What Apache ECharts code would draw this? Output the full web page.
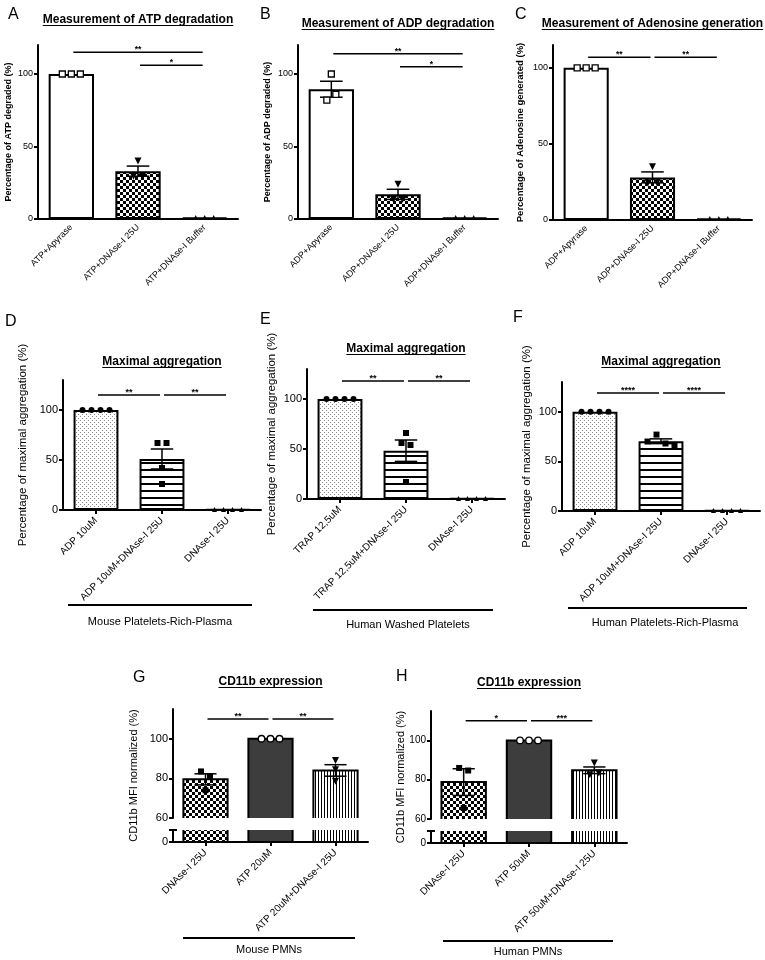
<!DOCTYPE html>
<html><head><meta charset="utf-8">
<script src="https://cdn.jsdelivr.net/npm/echarts@6/dist/echarts.min.js"></script>
<style>html,body{margin:0;padding:0;background:#fff}#c{width:765px;height:960px}</style>
</head><body><div id="c"></div>
<script>
// ================= DATA =================
const catsA = ['ATP+Apyrase', 'ATP+DNAse-I 25U', 'ATP+DNAse-I Buffer'];
const meanA = [100, 33, 1];
const semA  = [0, 3.5, 0];
const ptsA  = [[100, 100, 100], [40, 29.5, 29.5], [1, 1, 1]];
const sigA  = [[0, 2, 115, '**'], [1, 2, 106, '*']];
const rangeA = [0, 120];
const ticksA = [0, 50, 100];

const catsB = ['ADP+Apyrase', 'ADP+DNAse-I 25U', 'ADP+DNAse-I Buffer'];
const meanB = [89.5, 17, 1];
const semB  = [5.5, 3.5, 0];
const ptsB  = [[82, 100, 86], [24, 13.5, 13.5], [1, 1, 1]];
const sigB  = [[0, 2, 114, '**'], [1, 2, 105, '*']];
const rangeB = [0, 120];
const ticksB = [0, 50, 100];

const catsC = ['ADP+Apyrase', 'ADP+DNAse-I 25U', 'ADP+DNAse-I Buffer'];
const meanC = [100, 28, 1];
const semC  = [0, 3.6, 0];
const ptsC  = [[100, 100, 100], [35, 24.5, 24.5], [1, 1, 1]];
const sigC  = [[0, 1, 107, '**'], [1, 2, 107, '**']];
const rangeC = [0, 115];
const ticksC = [0, 50, 100];

const catsD = ['ADP 10uM', 'ADP 10uM+DNAse-I 25U', 'DNAse-I 25U'];
const meanD = [100, 51, 0.5];
const semD  = [0, 10, 0];
const ptsD  = [[100, 100, 100, 100], [67, 42, 26, 67], [0.5, 0.5, 0.5, 0.5]];
const sigD  = [[0, 1, 115, '**'], [1, 2, 115, '**']];
const rangeD = [0, 130];
const ticksD = [0, 50, 100];

const catsE = ['TRAP 12,5uM', 'TRAP 12,5uM+DNAse-I 25U', 'DNAse-I 25U'];
const meanE = [100, 48.3, 0.5];
const semE  = [0, 10.7, 0];
const ptsE  = [[100, 100, 100, 100], [66, 56, 54, 17], [0.5, 0.5, 0.5, 0.5]];
const sigE  = [[0, 1, 118, '**'], [1, 2, 118, '**']];
const rangeE = [0, 130];
const ticksE = [0, 50, 100];

const catsF = ['ADP 10uM', 'ADP 10uM+DNAse-I 25U', 'DNAse-I 25U'];
const meanF = [100, 70.3, 0.5];
const semF  = [0, 2.4, 0];
const ptsF  = [[100, 100, 100, 100], [70, 77, 68, 66], [0.5, 0.5, 0.5, 0.5]];
const sigF  = [[0, 1, 119, '****'], [1, 2, 119, '****']];
const rangeF = [0, 130];
const ticksF = [0, 50, 100];

const catsG = ['DNAse-I 25U', 'ATP 20uM', 'ATP 20uM+DNAse-I 25U'];
const meanG = [79.5, 100, 84];
const semG  = [2.8, 0, 2.9];
const ptsG  = [[83.5, 74, 81], [100, 100, 100], [89, 84.3, 78.5]];
const sigG  = [[0, 1, 110, '**'], [1, 2, 110, '**']];
const rangeG = [60, 115];
const ticksG = [60, 80, 100];
const lowRangeG = [0, 6];

const catsH = ['DNAse-I 25U', 'ATP 50uM', 'ATP 50uM+DNAse-I 25U'];
const meanH = [78.8, 100, 84.8];
const semH  = [6.8, 0, 1.7];
const ptsH  = [[86, 84.7, 65.6], [100, 100, 100], [88.5, 82.5, 83.4]];
const sigH  = [[0, 1, 110, '*'], [1, 2, 110, '***']];
const rangeH = [60, 115];
const ticksH = [60, 80, 100];
const lowRangeH = [0, 6];

const titles = {
  A: 'Measurement of ATP degradation', B: 'Measurement of ADP degradation',
  C: 'Measurement of Adenosine generation', D: 'Maximal aggregation',
  E: 'Maximal aggregation', F: 'Maximal aggregation',
  G: 'CD11b expression', H: 'CD11b expression'
};
const yNames = {
  A: 'Percentage of ATP degraded (%)', B: 'Percentage of ADP degraded (%)',
  C: 'Percentage of Adenosine generated (%)', D: 'Percentage of maximal aggregation (%)',
  E: 'Percentage of maximal aggregation (%)', F: 'Percentage of maximal aggregation (%)',
  G: 'CD11b MFI normalized (%)', H: 'CD11b MFI normalized (%)'
};
const groups = {
  D: 'Mouse Platelets-Rich-Plasma', E: 'Human Washed Platelets', F: 'Human Platelets-Rich-Plasma',
  G: 'Mouse PMNs', H: 'Human PMNs'
};

// ================= STYLE / LAYOUT =================
const FONT = '"Liberation Sans", Arial, Helvetica, sans-serif';
function pat(w, h, draw) {
  const c = document.createElement('canvas'); c.width = w; c.height = h;
  const x = c.getContext('2d'); x.fillStyle = '#fff'; x.fillRect(0, 0, w, h); draw(x);
  return { image: c, repeat: 'repeat' };
}
const FILL = {
  white: '#ffffff',
  dark: '#3d3d3d',
  checker: pat(6, 6, x => { x.fillStyle = '#000'; x.fillRect(0, 0, 3, 3); x.fillRect(3, 3, 3, 3); }),
  stipple: pat(4, 4, x => { x.fillStyle = '#8a8a8a'; x.fillRect(0, 0, 1, 1); x.fillRect(2, 2, 1, 1); }),
  hstripe: pat(1, 7, x => { x.fillStyle = '#000'; x.fillRect(0, 0, 1, 2); }),
  vstripe: pat(3, 1, x => { x.fillStyle = '#000'; x.fillRect(0, 0, 1, 1); })
};
const MARK = {
  oSquare: { symbol: 'rect', symbolSize: 6, itemStyle: { color: '#fff', borderColor: '#000', borderWidth: 1.3, opacity: 1 } },
  fSquare: { symbol: 'rect', symbolSize: 6, itemStyle: { color: '#000', opacity: 1 } },
  fCircle: { symbol: 'circle', symbolSize: 6, itemStyle: { color: '#000', opacity: 1 } },
  oCircle: { symbol: 'circle', symbolSize: 6.5, itemStyle: { color: '#fff', borderColor: '#000', borderWidth: 1.3, opacity: 1 } },
  dTri: { symbol: 'triangle', symbolSize: 7, symbolRotate: 180, itemStyle: { color: '#000', opacity: 1 } },
  uTri: { symbol: 'triangle', symbolSize: 5, itemStyle: { color: '#000', opacity: 1 } }
};
const S = {
  A: { grid: [38, 45, 200, 174], letter: [8, 15], titleY: 20, nameGap: 25, nfs: 9, nfw: 'bold', tfs: 9, xfs: 9, xmargin: 7, xtick: false, sfs: 8.5,
       fills: ['white', 'checker', 'white'], marks: ['oSquare', 'dTri', 'uTri'] },
  B: { grid: [298, 45, 200, 174], letter: [260, 15], titleY: 24, nameGap: 26, nfs: 9, nfw: 'bold', tfs: 9, xfs: 9, xmargin: 7, xtick: false, sfs: 8.5,
       fills: ['white', 'checker', 'white'], marks: ['oSquare', 'dTri', 'uTri'] },
  C: { grid: [553, 45, 199, 175], letter: [515, 15], titleY: 24, nameGap: 28, nfs: 9.5, nfw: 'bold', tfs: 9, xfs: 9, xmargin: 7, xtick: false, sfs: 8.5,
       fills: ['white', 'checker', 'white'], marks: ['oSquare', 'dTri', 'uTri'] },
  D: { grid: [63, 380, 198, 130], letter: [5, 322], titleY: 362, nameGap: 34, nfs: 11.5, nfw: 'normal', tfs: 11, xfs: 10, xmargin: 9, xtick: true, sfs: 9,
       fills: ['stipple', 'hstripe', 'white'], marks: ['fCircle', 'fSquare', 'uTri'], gLine: [68, 252, 605], gText: [160, 622] },
  E: { grid: [307, 369, 198, 130], letter: [260, 320], titleY: 349, nameGap: 29, nfs: 11.5, nfw: 'normal', tfs: 11, xfs: 10, xmargin: 9, xtick: true, sfs: 9,
       fills: ['stipple', 'hstripe', 'white'], marks: ['fCircle', 'fSquare', 'uTri'], gLine: [313, 493, 610], gText: [408, 625] },
  F: { grid: [562, 382, 198, 129], letter: [513, 318], titleY: 362, nameGap: 29, nfs: 11.5, nfw: 'normal', tfs: 11, xfs: 10, xmargin: 9, xtick: true, sfs: 9,
       fills: ['stipple', 'hstripe', 'white'], marks: ['fCircle', 'fSquare', 'uTri'], gLine: [568, 747, 608], gText: [665, 623] },
  G: { upper: [173, 709, 195, 109], lower: [173, 830, 195, 12], letter: [133, 678], titleY: 682, nameX: 134, nfs: 11, tfs: 11, xfs: 10, xmargin: 9, xtick: true, sfs: 9,
       fills: ['checker', 'dark', 'vstripe'], marks: ['fSquare', 'oCircle', 'dTri'], gLine: [183, 355, 938], gText: [269, 950] },
  H: { upper: [431, 711, 196, 108], lower: [431, 831, 196, 12], letter: [396, 677], titleY: 683, nameX: 401, nfs: 11, tfs: 10, xfs: 10, xmargin: 9, xtick: true, sfs: 9,
       fills: ['checker', 'dark', 'vstripe'], marks: ['fSquare', 'oCircle', 'dTri'], gLine: [443, 613, 941], gText: [528, 952] }
};

// ================= BUILD =================
const grids = [], xAxes = [], yAxes = [], series = [], graphics = [];
const measCtx = document.createElement('canvas').getContext('2d');
function measure(t, size, weight) { measCtx.font = weight + ' ' + size + 'px ' + FONT; return measCtx.measureText(t).width; }

function gText(text, x, y, size, weight, align, rot) {
  return { type: 'text', x: x, y: y, rotation: rot || 0, silent: true, z: 10,
    style: { text: text, fill: '#000', fontSize: size, fontWeight: weight || 'normal', fontFamily: FONT,
      textAlign: align || 'center', textVerticalAlign: 'middle', align: align || 'center', verticalAlign: 'middle' } };
}
function gLine(x1, y1, x2, y2, w) {
  return { type: 'line', silent: true, z: 10, shape: { x1: x1, y1: y1, x2: x2, y2: y2 }, style: { stroke: '#000', lineWidth: w } };
}
function addTitle(text, cx, cy) {
  const w = measure(text, 12, 'bold');
  graphics.push(gText(text, cx, cy, 12, 'bold'));
  graphics.push(gLine(cx - w / 2, cy + 5.5, cx + w / 2, cy + 5.5, 1.2));
}
function addGrid(r) {
  grids.push({ left: r[0], top: r[1], width: r[2], height: r[3], containLabel: false, outerBoundsMode: 'none' });
  return grids.length - 1;
}
function catAxis(g, cats, o) {
  xAxes.push({ type: 'category', gridIndex: g, data: cats, show: o.show !== false, position: 'bottom',
    axisLine: { show: true, onZero: false, lineStyle: { color: '#000', width: 2 } },
    axisTick: { show: !!o.xtick, alignWithLabel: true, length: 4, lineStyle: { color: '#000', width: 2 } },
    axisLabel: { interval: 0, rotate: 45, fontSize: o.xfs, fontFamily: FONT, color: '#000', margin: o.xmargin },
    splitLine: { show: false } });
  return xAxes.length - 1;
}
function valXAxis(g) {
  xAxes.push({ type: 'value', gridIndex: g, min: -0.5, max: 2.5, show: false, position: 'bottom',
    axisLine: { onZero: false }, splitLine: { show: false } });
  return xAxes.length - 1;
}
function valYAxis(g, o) {
  yAxes.push({ type: 'value', gridIndex: g, min: o.min, max: o.max, position: 'left', offset: 0,
    axisLine: { show: o.line !== false, onZero: false, lineStyle: { color: '#000', width: 2 } },
    axisTick: { show: true, inside: !!o.inside, length: 4, customValues: o.ticks, lineStyle: { color: '#000', width: 2 } },
    axisLabel: { show: o.labels !== null, customValues: o.labels || o.ticks, fontSize: o.fs, fontFamily: FONT, color: '#000', margin: 5 },
    splitLine: { show: false },
    name: o.name || '', nameLocation: 'middle', nameGap: o.nameGap || 0,
    nameTextStyle: { fontSize: o.nfs || 10, fontWeight: o.nfw || 'normal', fontFamily: FONT, color: '#000' } });
  return yAxes.length - 1;
}
function spread(vals, ppu, bandPx) {
  const idx = vals.map((v, i) => i).sort((a, b) => vals[a] - vals[b]);
  const clusters = []; let cur = [idx[0]];
  for (let k = 1; k < idx.length; k++) {
    if ((vals[idx[k]] - vals[idx[k - 1]]) * ppu < 7.5) cur.push(idx[k]);
    else { clusters.push(cur); cur = [idx[k]]; }
  }
  clusters.push(cur);
  const off = vals.map(() => 0);
  clusters.forEach(c => { c.sort((a, b) => a - b); c.forEach((id, j) => { off[id] = (j - (c.length - 1) / 2) * 9 / bandPx; }); });
  return off;
}
function barSeries(cx, y, mean, fills, bw) {
  series.push({ type: 'bar', xAxisIndex: cx, yAxisIndex: y, barWidth: '68%', silent: true, z: 2, clip: true,
    itemStyle: { borderColor: '#000', borderWidth: bw },
    data: mean.map((v, i) => ({ value: v, itemStyle: { color: FILL[fills[i]] } })) });
}
function outlineSeries(vx, y, mean, segMin, segMax, openBottom) {
  series.push({ type: 'custom', xAxisIndex: vx, yAxisIndex: y, silent: true, z: 3,
    data: mean.map((v, i) => [i, v]), encode: { x: 0, y: 1 },
    renderItem: function (params, api) {
      const i = api.value(0), v = Math.min(api.value(1), segMax);
      const half = api.size([0.68, 0])[0] / 2;
      const c0 = api.coord([i, segMin]), c1 = api.coord([i, v]);
      const xl = c0[0] - half, xr = c0[0] + half;
      const pts = openBottom ? [[xl, c0[1]], [xl, c1[1]], [xr, c1[1]], [xr, c0[1]]]
                             : [[xl, c1[1]], [xl, c0[1]], [xr, c0[1]], [xr, c1[1]]];
      return { type: 'polyline', shape: { points: pts }, style: { stroke: '#000', lineWidth: 2, fill: null } };
    } });
}
function errSeries(vx, y, mean, sem) {
  series.push({ type: 'custom', xAxisIndex: vx, yAxisIndex: y, silent: true, z: 4,
    data: mean.map((m, i) => [i, m, sem[i]]), encode: { x: 0, y: 1 },
    renderItem: function (params, api) {
      const x = api.value(0), m = api.value(1), s = api.value(2);
      if (!(s > 0)) return null;
      const t = api.coord([x, m + s]), b = api.coord([x, m - s]);
      const h = api.size([0.34, 0])[0] / 2;
      const st = { stroke: '#000', lineWidth: 1.5 };
      return { type: 'group', children: [
        { type: 'line', shape: { x1: t[0], y1: t[1], x2: b[0], y2: b[1] }, style: st },
        { type: 'line', shape: { x1: t[0] - h, y1: t[1], x2: t[0] + h, y2: t[1] }, style: st },
        { type: 'line', shape: { x1: b[0] - h, y1: b[1], x2: b[0] + h, y2: b[1] }, style: st }] };
    } });
}
function scatterSeries(vx, y, pts, marks, bandPx, ppu) {
  const data = [];
  pts.forEach((vals, i) => {
    const off = spread(vals, ppu, bandPx);
    vals.forEach((v, j) => { data.push(Object.assign({ value: [i + off[j], v] }, MARK[marks[i]])); });
  });
  series.push({ type: 'scatter', xAxisIndex: vx, yAxisIndex: y, silent: true, z: 5, data: data });
}
function sigSeries(vx, y, sig, fs) {
  series.push({ type: 'custom', xAxisIndex: vx, yAxisIndex: y, silent: true, z: 4,
    data: sig.map(s => [s[0], s[1], s[2]]), encode: { x: [0, 1], y: 2 },
    renderItem: function (params, api) {
      const s = sig[params.dataIndex];
      const p1 = api.coord([api.value(0), api.value(2)]), p2 = api.coord([api.value(1), api.value(2)]);
      return { type: 'group', children: [
        { type: 'line', shape: { x1: p1[0] + 2, y1: p1[1], x2: p2[0] - 2, y2: p2[1] }, style: { stroke: '#000', lineWidth: 1.5 } },
        { type: 'text', x: (p1[0] + p2[0]) / 2, y: p1[1] - 2.5,
          style: { text: s[3], fill: '#000', fontSize: fs, fontWeight: 'bold', fontFamily: FONT,
            textAlign: 'center', textVerticalAlign: 'middle', align: 'center', verticalAlign: 'middle' } }] };
    } });
}

function buildSimple(id, cats, mean, sem, pts, sig, range, ticks) {
  const s = S[id];
  const g = addGrid(s.grid);
  const cx = catAxis(g, cats, s);
  const vx = valXAxis(g);
  const y = valYAxis(g, { min: range[0], max: range[1], ticks: ticks, fs: s.tfs, name: yNames[id], nameGap: s.nameGap, nfs: s.nfs, nfw: s.nfw });
  barSeries(cx, y, mean, s.fills, 2);
  errSeries(vx, y, mean, sem);
  sigSeries(vx, y, sig, s.sfs);
  scatterSeries(vx, y, pts, s.marks, s.grid[2] / 3, s.grid[3] / (range[1] - range[0]));
  graphics.push(gText(id, s.letter[0], s.letter[1], 16, 'normal', 'left'));
  addTitle(titles[id], s.grid[0] + s.grid[2] / 2, s.titleY);
  if (groups[id]) {
    graphics.push(gLine(s.gLine[0], s.gLine[2], s.gLine[1], s.gLine[2], 2));
    graphics.push(gText(groups[id], s.gText[0], s.gText[1], 11, 'normal'));
  }
}
function buildBroken(id, cats, mean, sem, pts, sig, range, ticks, lowRange) {
  const s = S[id];
  // upper segment
  const g1 = addGrid(s.upper);
  const cx1 = catAxis(g1, cats, { show: false });
  const vx1 = valXAxis(g1);
  const y1 = valYAxis(g1, { min: range[0], max: range[1], ticks: ticks, fs: s.tfs });
  barSeries(cx1, y1, mean, s.fills, 0);
  outlineSeries(vx1, y1, mean, range[0], range[1], true);
  errSeries(vx1, y1, mean, sem);
  sigSeries(vx1, y1, sig, s.sfs);
  scatterSeries(vx1, y1, pts, s.marks, s.upper[2] / 3, s.upper[3] / (range[1] - range[0]));
  // lower segment
  const g2 = addGrid(s.lower);
  const cx2 = catAxis(g2, cats, s);
  const vx2 = valXAxis(g2);
  const y2 = valYAxis(g2, { min: lowRange[0], max: lowRange[1], ticks: lowRange, labels: [lowRange[0]], fs: s.tfs });
  valYAxis(g2, { min: lowRange[0], max: lowRange[1], ticks: [lowRange[1]], labels: null, fs: s.tfs, inside: true, line: false });
  barSeries(cx2, y2, mean, s.fills, 0);
  outlineSeries(vx2, y2, mean, lowRange[0], lowRange[1], false);
  // texts
  graphics.push(gText(id, s.letter[0], s.letter[1], 16, 'normal', 'left'));
  addTitle(titles[id], s.upper[0] + s.upper[2] / 2, s.titleY);
  const axTop = s.upper[1], axBot = s.lower[1] + s.lower[3];
  graphics.push(gText(yNames[id], s.nameX, (axTop + axBot) / 2, s.nfs, 'normal', 'center', Math.PI / 2));
  graphics.push(gLine(s.gLine[0], s.gLine[2], s.gLine[1], s.gLine[2], 2));
  graphics.push(gText(groups[id], s.gText[0], s.gText[1], 11, 'normal'));
}

buildSimple('A', catsA, meanA, semA, ptsA, sigA, rangeA, ticksA);
buildSimple('B', catsB, meanB, semB, ptsB, sigB, rangeB, ticksB);
buildSimple('C', catsC, meanC, semC, ptsC, sigC, rangeC, ticksC);
buildSimple('D', catsD, meanD, semD, ptsD, sigD, rangeD, ticksD);
buildSimple('E', catsE, meanE, semE, ptsE, sigE, rangeE, ticksE);
buildSimple('F', catsF, meanF, semF, ptsF, sigF, rangeF, ticksF);
buildBroken('G', catsG, meanG, semG, ptsG, sigG, rangeG, ticksG, lowRangeG);
buildBroken('H', catsH, meanH, semH, ptsH, sigH, rangeH, ticksH, lowRangeH);

const chart = echarts.init(document.getElementById('c'), null, { renderer: 'canvas' });
chart.setOption({
  animation: false, backgroundColor: '#ffffff',
  textStyle: { fontFamily: FONT, color: '#000' },
  grid: grids, xAxis: xAxes, yAxis: yAxes, series: series,
  graphic: { elements: graphics }
});
</script>
</body></html>
